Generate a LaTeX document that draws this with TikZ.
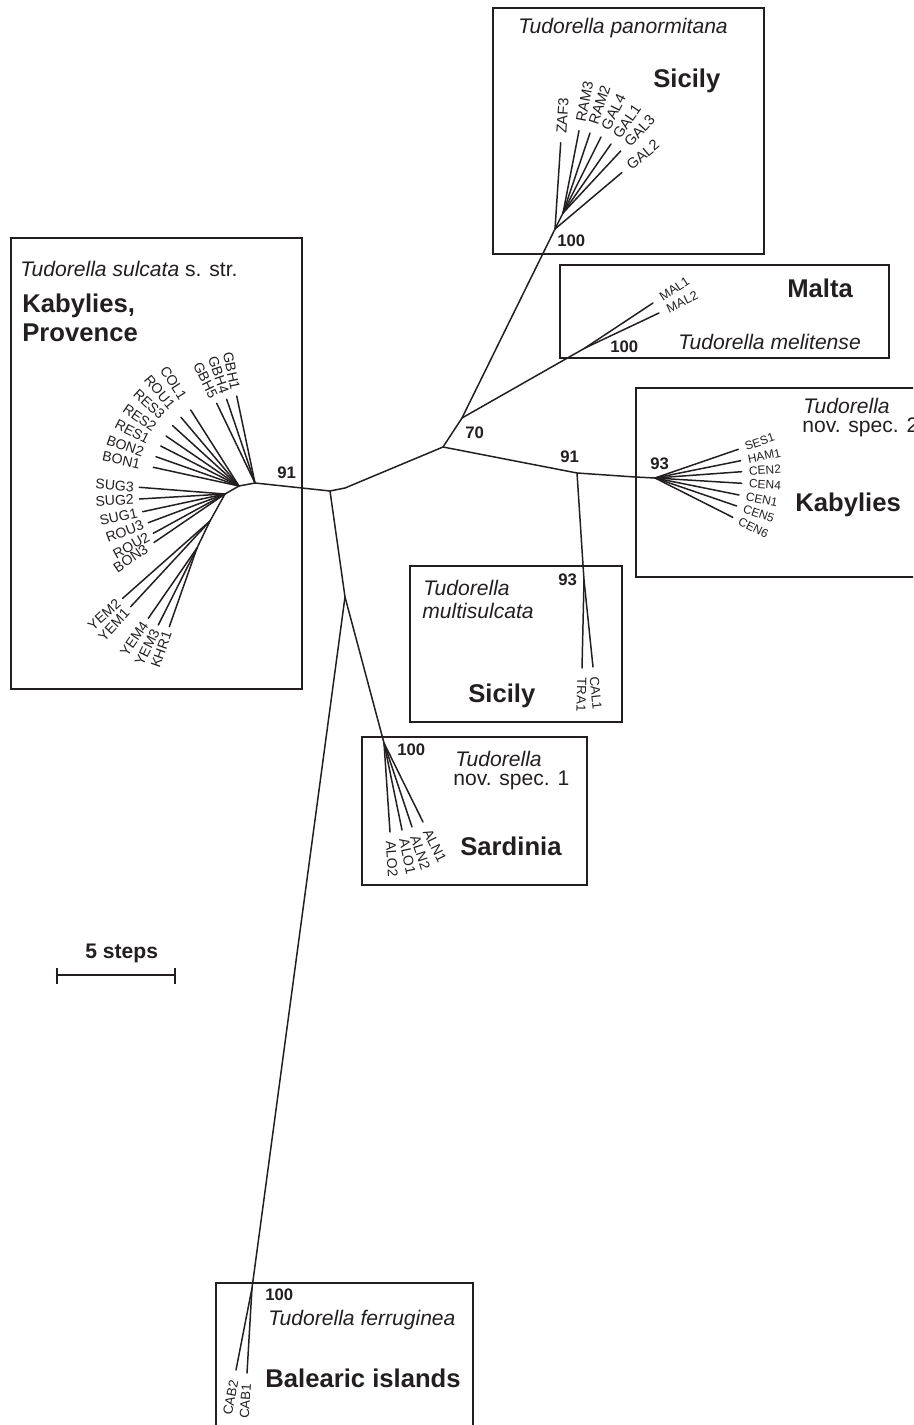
\documentclass[tikz,border=0pt]{standalone}
\usepackage{fontspec}
\setmainfont{Liberation Sans}
\usetikzlibrary{calc}
\definecolor{ink}{RGB}{35,31,32}
\tikzset{
 br/.style={draw=ink, line width=0.85pt, line cap=round},
 box/.style={draw=ink, line width=0.95pt},
 lab/.style={inner sep=1.3pt, text=ink, font=\fontsize{8}{9}\selectfont},
 bs/.style={inner sep=0pt, anchor=base west, text=ink, font=\fontsize{9.5}{10}\selectfont\bfseries},
 big/.style={inner sep=0pt, anchor=base west, text=ink, font=\fontsize{14.6}{17}\selectfont\bfseries},
 sp/.style={inner sep=0pt, anchor=base west, text=ink, font=\fontsize{12}{14}\selectfont},
 topl/.style={font=\fontsize{8.3}{9}\selectfont, inner xsep=5pt},
 mall/.style={font=\fontsize{7.2}{8}\selectfont, inner xsep=5pt},
 kabl/.style={font=\fontsize{6.8}{8}\selectfont, inner xsep=4pt},
 mull/.style={font=\fontsize{7.5}{8}\selectfont, inner xsep=5.5pt},
 sarl/.style={inner xsep=5pt},
 ball/.style={font=\fontsize{7.6}{8}\selectfont, inner xsep=6pt},
 gbhl/.style={inner xsep=3.5pt},
 resl/.style={inner xsep=7.5pt},
 sugl/.style={inner xsep=3pt},
}
% leaf with label on the far side of the tip (reading away from parent)
\newcommand{\leafR}[5][]{%
  \coordinate (t#3) at (#4,#5);
  \draw[br] (#2) -- (t#3);
  \path let \p1=($(t#3)-(#2)$), \n1={atan2(\y1,\x1)} in
    node[lab,#1,rotate=\n1,anchor=west] (n#3) at (t#3) {#3};
}
% leaf whose label reads towards the tip
\newcommand{\leafL}[5][]{%
  \coordinate (t#3) at (#4,#5);
  \draw[br] (#2) -- (t#3);
  \path let \p1=($(t#3)-(#2)$), \n1={atan2(\y1,\x1)+180} in
    node[lab,#1,rotate=\n1,anchor=east] (n#3) at (t#3) {#3};
}
\begin{document}
\begin{tikzpicture}[x=0.02cm,y=-0.02cm]
\useasboundingbox (0,0) rectangle (913,1425);
\clip (0,0) rectangle (913,1425);

% ---------- boxes ----------
\draw[box] (493,8) rectangle (764,254);
\draw[box] (11,238) rectangle (302,689);
\draw[box] (560,265) rectangle (889,358);
\draw[box] (930,388) -- (636,388) -- (636,577) -- (930,577);
\draw[box] (410,566) rectangle (622,722);
\draw[box] (362,737) rectangle (587,885);
\draw[box] (216,1440) -- (216,1283) -- (473,1283) -- (473,1440);

% ---------- internal nodes ----------
\coordinate (L1) at (255,483);
\coordinate (L2) at (239,486);
\coordinate (L3) at (225,494);
\coordinate (L4) at (210,521);
\coordinate (L5) at (197,548);
\coordinate (A) at (330,491);
\coordinate (Ak) at (345,488);
\coordinate (B) at (443,447);
\coordinate (C) at (462,418);
\coordinate (T0) at (555,229);
\coordinate (T1) at (563,213);
\coordinate (M) at (585,348);
\coordinate (D) at (577,473);
\coordinate (Dk) at (635,477);
\coordinate (E) at (655,478);
\coordinate (K) at (584,580);
\coordinate (F) at (345,597);
\coordinate (G) at (384,743);
\coordinate (H) at (252,1288);

% ---------- backbone ----------
\draw[br] (L3) -- (L2) -- (L1) -- (A) -- (Ak) -- (B) -- (C) -- (T0) -- (T1);
\draw[br] (L3) -- (L4) -- (L5);
\draw[br] (C) -- (M);
\draw[br] (B) -- (D) -- (Dk) -- (E);
\draw[br] (D) -- (K);
\draw[br] (A) -- (F) -- (G);
\draw[br] (F) -- (H);

% ---------- Sicily (panormitana) ----------
\leafR[topl]{T0}{ZAF3}{560.7}{142.7}
\leafR[topl]{T1}{RAM3}{579}{130.7}
\leafR[topl]{T1}{RAM2}{590}{133}
\leafR[topl]{T1}{GAL4}{601}{137}
\leafR[topl]{T1}{GAL1}{611}{144}
\leafR[topl]{T1}{GAL3}{620.7}{151}
\leafR[topl]{T0}{GAL2}{621.7}{172.7}

% ---------- Malta ----------
\leafR[mall]{M}{MAL1}{653}{303}
\leafR[mall]{M}{MAL2}{659}{313}

% ---------- Kabylies nov. spec. 2 ----------
\leafR[kabl]{E}{SES1}{738.3}{449.3}
\leafR[kabl]{E}{HAM1}{740.7}{460.7}
\leafR[kabl]{E}{CEN2}{741.7}{471.7}
\leafR[kabl]{E}{CEN4}{741.7}{483.3}
\leafR[kabl]{E}{CEN1}{739}{495}
\leafR[kabl]{E}{CEN5}{736.7}{506}
\leafR[kabl]{E}{CEN6}{732.7}{517.3}

% ---------- multisulcata ----------
\leafR[mull]{K}{TRA1}{582}{668}
\leafR[mull]{K}{CAL1}{593}{667}

% ---------- Sardinia ----------
\leafR[sarl]{G}{ALO2}{390}{832}
\leafR[sarl]{G}{ALO1}{402}{830}
\leafR[sarl]{G}{ALN2}{412}{827}
\leafR[sarl]{G}{ALN1}{423}{822}

% ---------- Balearic ----------
\leafL[ball]{H}{CAB2}{236}{1370}
\leafL[ball]{H}{CAB1}{247}{1373}

% ---------- sulcata ----------
\leafL[gbhl]{L1}{GBH1}{236.7}{396}
\leafL[gbhl]{L1}{GBH4}{226.7}{399.3}
\leafL[gbhl]{L1}{GBH5}{216.7}{403.3}
\leafL[resl]{L2}{COL1}{190.7}{410}
\leafL[resl]{L2}{ROU1}{181}{417.3}
\leafL[resl]{L2}{RES3}{172.7}{425.7}
\leafL[resl]{L2}{RES2}{166}{436}
\leafL[resl]{L2}{RES1}{160.7}{446}
\leafL[resl]{L2}{BON2}{156}{456.7}
\leafL[resl]{L2}{BON1}{153.3}{467.3}
\leafL[sugl]{L3}{SUG3}{139.3}{487.3}
\leafL[sugl]{L3}{SUG2}{139.3}{499}
\leafL[sugl]{L3}{SUG1}{142.7}{511.7}
\leafL[sugl]{L3}{ROU3}{148.3}{522.7}
\leafL[sugl]{L3}{ROU2}{153.3}{533.3}
\leafL[sugl, inner xsep=5pt]{L3}{BON3}{154}{542.5}
\leafL[sugl]{L4}{YEM2}{122.7}{598.3}
\leafL[sugl]{L4}{YEM1}{130.7}{606.7}
\leafL[sugl]{L5}{YEM4}{148.3}{618.3}
\leafL[sugl]{L5}{YEM3}{158.3}{625}
\leafL[sugl]{L5}{KHR1}{169.3}{626.7}

% ---------- bootstrap values ----------
\node[bs] (b1) at (557,247) {100};
\node[bs] (b2) at (610,353) {100};
\node[bs] (b3) at (465,438) {70};
\node[bs] (b4) at (560,462) {91};
\node[bs] (b5) at (650,469) {93};
\node[bs] (b6) at (277,478) {91};
\node[bs] (b7) at (558,585) {93};
\node[bs] (b8) at (397,755) {100};
\node[bs] (b9) at (265,1300) {100};

% ---------- group texts ----------
\node[sp] (s1) at (518,34) {\itshape Tudorella panormitana};
\node[big] (g1) at (653,88) {Sicily};
\node[sp] (s2) at (20,277) {\textit{Tudorella sulcata} s. str.};
\node[big] (g2a) at (22,313) {Kabylies,};
\node[big] (g2b) at (22,342) {Provence};
\node[big] (g3) at (787,298) {Malta};
\node[sp] (s3) at (678,350) {\itshape Tudorella melitense};
\node[sp] (s4a) at (803,413) {\itshape Tudorella};
\node[sp] (s4b) at (802,432) {nov. spec. 2};
\node[big] (g4) at (795,511) {Kabylies};
\node[sp] (s5a) at (423,595) {\itshape Tudorella};
\node[sp] (s5b) at (422,618) {\itshape multisulcata};
\node[big] (g5) at (468,702) {Sicily};
\node[sp] (s6a) at (455,766) {\itshape Tudorella};
\node[sp] (s6b) at (453,785) {nov. spec. 1};
\node[big] (g6) at (460,855) {Sardinia};
\node[sp] (s7) at (268,1325) {\itshape Tudorella ferruginea};
\node[big] (g7) at (265,1387) {Balearic islands};

% ---------- scale bar ----------
\node[bs, font=\fontsize{12}{14}\selectfont\bfseries] (sc) at (85,958) {5 steps};
\coordinate (sbL) at (57,975);
\coordinate (sbR) at (175,975);
\draw[br, line cap=butt] (sbL) -- (sbR);
\draw[br, line cap=butt] ($(sbL)+(0,-7)$) -- ($(sbL)+(0,9)$);
\draw[br, line cap=butt] ($(sbR)+(0,-7)$) -- ($(sbR)+(0,9)$);
\end{tikzpicture}
\end{document}
